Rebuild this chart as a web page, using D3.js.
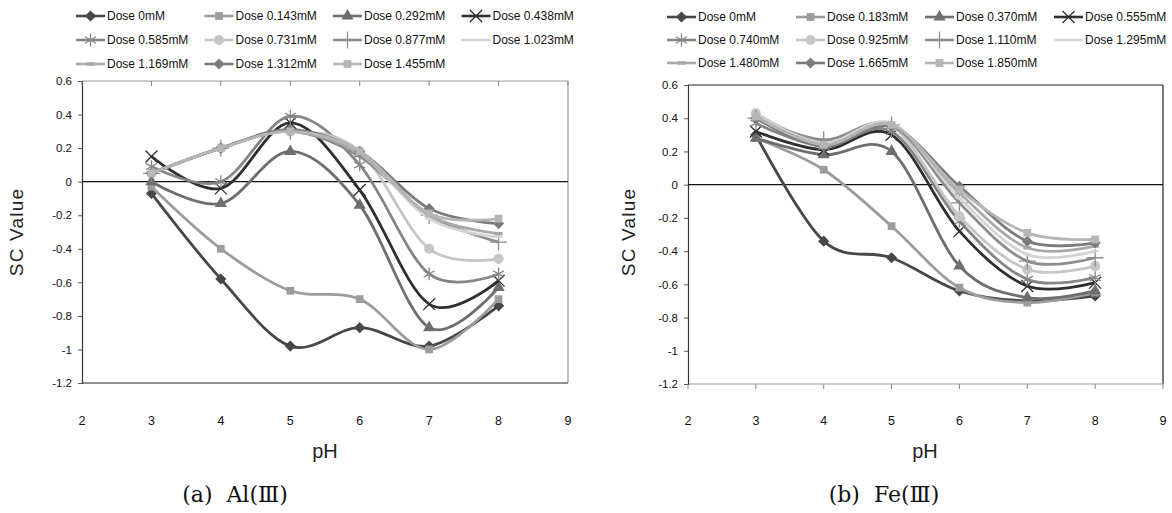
<!DOCTYPE html>
<html><head><meta charset="utf-8">
<script src="https://cdn.jsdelivr.net/npm/d3@7"></script>
<style>
html,body{margin:0;padding:0;background:#fff;}
svg{display:block;}
</style></head>
<body>
<svg id="chart" width="1172" height="513"></svg>
<script>
// ---------------- DATA ----------------
const pH = [3, 4, 5, 6, 7, 8];
const xTicks = [2, 3, 4, 5, 6, 7, 8, 9];
const yTicks = [0.6, 0.4, 0.2, 0, -0.2, -0.4, -0.6, -0.8, -1, -1.2];
const yTickLabels = ["0.6", "0.4", "0.2", "0", "-0.2", "-0.4", "-0.6", "-0.8", "-1", "-1.2"];

const alDoses = ["Dose 0mM", "Dose 0.143mM", "Dose 0.292mM", "Dose 0.438mM",
  "Dose 0.585mM", "Dose 0.731mM", "Dose 0.877mM", "Dose 1.023mM",
  "Dose 1.169mM", "Dose 1.312mM", "Dose 1.455mM"];
const feDoses = ["Dose 0mM", "Dose 0.183mM", "Dose 0.370mM", "Dose 0.555mM",
  "Dose 0.740mM", "Dose 0.925mM", "Dose 1.110mM", "Dose 1.295mM",
  "Dose 1.480mM", "Dose 1.665mM", "Dose 1.850mM"];

// SC values at pH 3..8, one row per dose
const alSC = [
  [-0.07, -0.58, -0.98, -0.87, -0.98, -0.74],
  [-0.03, -0.40, -0.65, -0.70, -1.00, -0.70],
  [ 0.00, -0.13,  0.18, -0.14, -0.87, -0.63],
  [ 0.15, -0.04,  0.35, -0.05, -0.73, -0.59],
  [ 0.09,  0.00,  0.39,  0.10, -0.55, -0.55],
  [ 0.05,  0.20,  0.30,  0.18, -0.40, -0.46],
  [ 0.05,  0.20,  0.30,  0.15, -0.20, -0.36],
  [ 0.05,  0.20,  0.30,  0.17, -0.22, -0.33],
  [ 0.05,  0.20,  0.30,  0.17, -0.20, -0.31],
  [ 0.05,  0.20,  0.31,  0.18, -0.16, -0.25],
  [ 0.05,  0.20,  0.30,  0.18, -0.19, -0.22]
];
const feSC = [
  [ 0.30, -0.34, -0.44, -0.64, -0.70, -0.67],
  [ 0.28,  0.09, -0.25, -0.62, -0.71, -0.65],
  [ 0.28,  0.18,  0.20, -0.49, -0.68, -0.64],
  [ 0.32,  0.21,  0.30, -0.28, -0.61, -0.59],
  [ 0.37,  0.23,  0.32, -0.22, -0.57, -0.56],
  [ 0.43,  0.25,  0.35, -0.19, -0.51, -0.49],
  [ 0.40,  0.27,  0.36, -0.11, -0.46, -0.44],
  [ 0.42,  0.25,  0.37, -0.08, -0.42, -0.40],
  [ 0.41,  0.24,  0.36, -0.05, -0.38, -0.37],
  [ 0.40,  0.23,  0.35, -0.01, -0.34, -0.35],
  [ 0.41,  0.24,  0.36, -0.03, -0.29, -0.33]
];

// ---------------- STYLE ----------------
const colors = ["#474747", "#9c9c9c", "#6e6e6e", "#2f2f2f", "#858585", "#c6c6c6",
  "#8e8e8e", "#d4d4d4", "#a9a9a9", "#7b7b7b", "#b5b5b5"];
const markerTypes = ["diamond", "square", "triangle", "times", "asterisk", "circle",
  "plus", "dash", "dash2", "diamond", "square"];

const svg = d3.select("#chart");
const sans = "'Liberation Sans',Arial,sans-serif";

function drawMarker(g, type, color, cx, cy) {
  if (type === "dash" || type === "dash2") {
    g.append("line").attr("x1", cx - 4).attr("x2", cx + 4).attr("y1", cy).attr("y2", cy)
      .attr("stroke", color).attr("stroke-width", type === "dash" ? 2 : 3.5);
    return;
  }
  const s = {
    diamond: [d3.symbolDiamond2, 80, true],
    square: [d3.symbolSquare, 60, true],
    triangle: [d3.symbolTriangle, 65, true],
    times: [d3.symbolTimes, 95, false],
    asterisk: [d3.symbolAsterisk, 115, false],
    circle: [d3.symbolCircle, 80, true],
    plus: [d3.symbolPlus, 95, false]
  }[type];
  const p = g.append("path").attr("d", d3.symbol(s[0], s[1])())
    .attr("transform", `translate(${cx},${cy})`);
  if (s[2]) p.attr("fill", color).attr("stroke", "none");
  else p.attr("fill", "none").attr("stroke", color).attr("stroke-width", 1.3);
}

function panel(cfg) {
  const g = svg.append("g");
  const x = d3.scaleLinear().domain([2, 9]).range([cfg.x0, cfg.x1]);
  const y = d3.scaleLinear().domain([-1.2, 0.6]).range([cfg.yBot, cfg.yTop]);

  // frame
  g.append("line").attr("x1", cfg.x0).attr("x2", cfg.x1).attr("y1", cfg.yTop).attr("y2", cfg.yTop)
    .attr("stroke", cfg.topColor).attr("stroke-width", 1.2);
  g.append("line").attr("x1", cfg.x1).attr("x2", cfg.x1).attr("y1", cfg.yTop).attr("y2", cfg.yBot)
    .attr("stroke", cfg.topColor).attr("stroke-width", 1.2);
  g.append("line").attr("x1", cfg.x0).attr("x2", cfg.x1).attr("y1", cfg.yBot).attr("y2", cfg.yBot)
    .attr("stroke", cfg.botColor).attr("stroke-width", 1.2);

  // y axis
  const ya = d3.axisLeft(y).tickValues(yTicks).tickSize(4).tickPadding(6)
    .tickFormat((d, i) => yTickLabels[i]);
  const yg = g.append("g").attr("transform", `translate(${cfg.x0},0)`).call(ya);
  yg.select(".domain").attr("stroke", "#333").attr("stroke-width", 1.2);
  yg.selectAll(".tick line").attr("stroke", "#555");
  yg.selectAll("text").attr("font-family", sans).attr("font-size", 11.5).attr("fill", "#111");

  // x ticks (marks) and labels
  xTicks.forEach(t => {
    if (cfg.tickTop) {
      g.append("line").attr("x1", x(t)).attr("x2", x(t)).attr("y1", cfg.yTop).attr("y2", cfg.yTop + 5)
        .attr("stroke", "#888").attr("stroke-width", 1);
    } else {
      g.append("line").attr("x1", x(t)).attr("x2", x(t)).attr("y1", cfg.yBot).attr("y2", cfg.yBot + 5)
        .attr("stroke", "#888").attr("stroke-width", 1);
    }
    g.append("text").attr("x", x(t)).attr("y", 421).attr("dy", "0.35em")
      .attr("text-anchor", "middle").attr("font-family", sans).attr("font-size", 12.5)
      .attr("fill", "#111").text(t);
  });

  // zero line
  g.append("line").attr("x1", cfg.x0).attr("x2", cfg.x1).attr("y1", y(0)).attr("y2", y(0))
    .attr("stroke", "#111").attr("stroke-width", 1.2);

  // axis titles
  g.append("text").attr("transform", `translate(${cfg.yTitleX},${cfg.yTitleY}) rotate(-90)`)
    .attr("text-anchor", "middle").attr("dy", "0.35em")
    .attr("font-family", sans).attr("font-size", 19)
    .attr("fill", "#222").attr("letter-spacing", 1.2).text("SC Value");
  g.append("text").attr("x", cfg.pHx).attr("y", 451).attr("dy", "0.35em")
    .attr("text-anchor", "middle").attr("font-family", sans)
    .attr("font-size", 20).attr("fill", "#222").text("pH");

  // series
  const line = d3.line().x((d, i) => x(pH[i])).y(d => y(d)).curve(d3.curveCardinal.tension(0));
  cfg.data.forEach((vals, si) => {
    g.append("path").attr("d", line(vals)).attr("fill", "none")
      .attr("stroke", colors[si]).attr("stroke-width", 2.8).attr("stroke-linejoin", "round");
    vals.forEach((v, i) => drawMarker(g, markerTypes[si], colors[si], x(pH[i]), y(v)));
  });

  // legend
  cfg.labels.forEach((lab, i) => {
    const col = i % 4, row = Math.floor(i / 4);
    const lx = cfg.legX + col * cfg.legDX;
    const ly = cfg.legY[row];
    g.append("line").attr("x1", lx).attr("x2", lx + 29).attr("y1", ly).attr("y2", ly)
      .attr("stroke", colors[i]).attr("stroke-width", 2.6);
    drawMarker(g, markerTypes[i], colors[i], lx + 14.5, ly);
    g.append("text").attr("x", lx + 31).attr("y", ly).attr("dy", "0.35em")
      .attr("font-family", sans).attr("font-size", 12).attr("fill", "#111").text(lab);
  });

  // caption
  g.append("text").attr("x", cfg.capX).attr("y", 494).attr("dy", "0.35em")
    .attr("text-anchor", "middle")
    .attr("font-family", "'DejaVu Serif','Liberation Serif',serif")
    .attr("font-size", 22).attr("fill", "#111").attr("xml:space", "preserve")
    .text(cfg.caption);
}

panel({
  x0: 82, x1: 568, yTop: 81, yBot: 383, topColor: "#999", botColor: "#222", tickTop: true,
  data: alSC, labels: alDoses, yTitleX: 16, yTitleY: 232, pHx: 325,
  legX: 76, legDX: 128.5, legY: [16, 40, 64], capX: 235, caption: "(a)  Al(Ⅲ)"
});
panel({
  x0: 688, x1: 1163, yTop: 85, yBot: 384, topColor: "#222", botColor: "#999", tickTop: false,
  data: feSC, labels: feDoses, yTitleX: 628, yTitleY: 232, pHx: 925,
  legX: 667, legDX: 129, legY: [17, 40, 63], capX: 884, caption: "(b)  Fe(Ⅲ)"
});
</script>
</body></html>
